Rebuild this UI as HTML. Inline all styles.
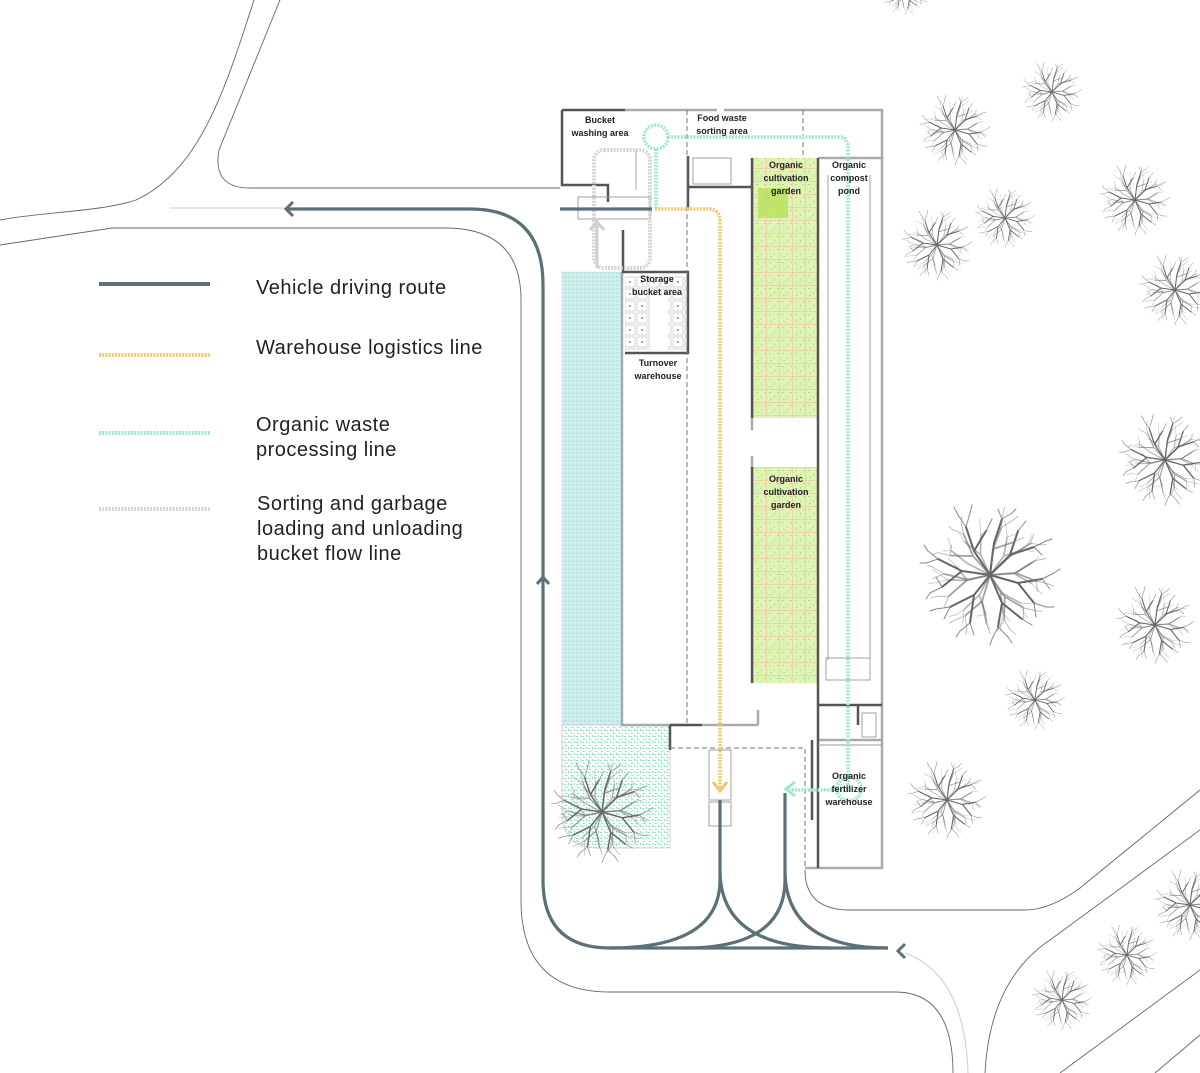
<!DOCTYPE html>
<html><head><meta charset="utf-8"><style>
html,body{margin:0;padding:0;background:#fff}
svg{display:block}
text{font-family:"Liberation Sans",sans-serif;fill:#222}
.lab{font-size:9px;font-weight:bold;text-anchor:middle}
.leg{font-size:20px;fill:#222;letter-spacing:0.5px}
</style></head><body>
<svg width="1200" height="1073" viewBox="0 0 1200 1073" xmlns="http://www.w3.org/2000/svg">
<defs>
<pattern id="teal" width="4" height="4" patternUnits="userSpaceOnUse"><rect width="4" height="4" fill="#cdeeea"/><rect width="2" height="2" fill="#b8e4df"/></pattern>
<pattern id="dots" width="6" height="6" patternUnits="userSpaceOnUse"><rect width="6" height="6" fill="#f3fbf8"/><path d="M1 1h2v1H1zM4 3h1v2H4zM0 4h2v1H0z" fill="#9fdcc7"/></pattern>
<pattern id="grn" width="13" height="13" patternUnits="userSpaceOnUse"><rect width="13" height="13" fill="#dff3b4"/><path d="M2 2h2v1H2zM7 6h1v2H7zM10 2h2v1h-2zM3 9h2v1H3z" fill="#b5de7e"/><path d="M0 12.5H13M12.5 0V13" stroke="#eec9a6" stroke-width="0.7"/></pattern>
<pattern id="cells" width="12" height="12" patternUnits="userSpaceOnUse"><rect x="1" y="1" width="10" height="10" fill="#fff" stroke="#bbb" stroke-width="0.6"/><circle cx="6" cy="6" r="1" fill="#888"/></pattern>
<g id="br">
<g stroke-width="1">
<path d="M0 0L-8 -12L-12 -24M-8 -12L-2 -22M0 0L10 -10L22 -14M10 -10L14 -22M0 0L14 4L26 2M14 4L22 14M0 0L6 14L4 26M6 14L16 22M0 0L-8 10L-20 16M-8 10L-10 24M0 0L-14 -2L-26 -8M-14 -2L-24 6M0 0L2 -16L6 -28"/>
</g>
<g stroke-width="0.5" stroke="#888">
<path d="M-12 -24l-4 -6M-12 -24l2 -7M-2 -22l3 -6M22 -14l6 -3M22 -14l4 4M14 -22l4 -5M26 2l6 -3M26 2l4 5M22 14l6 2M22 14l1 7M4 26l-3 6M4 26l5 5M16 22l5 3M-20 16l-7 1M-20 16l-3 6M-10 24l-5 4M-10 24l2 6M-26 -8l-5 -4M-26 -8l-6 2M-24 6l-6 3M-24 6l-3 -5M6 -28l-2 -5M6 -28l5 -3"/>
<path d="M-16 -30l-2 -4M-10 -31l1 -4M28 -17l3 -1M32 -1l3 -2M28 16l4 0M1 32l-1 3M9 31l2 3M-27 17l-3 1M-15 28l-2 3M-31 -12l-2 -3M-32 -6l-3 0M-30 9l-2 3M11 -31l2 -2"/>
</g>
</g>
<g id="tree" stroke="#666" fill="none" stroke-linecap="round">
<use href="#br"/>
<use href="#br" transform="rotate(40) scale(0.9)" opacity="0.6"/>
<use href="#br" transform="rotate(-70) scale(0.8)" opacity="0.5"/>
</g>
</defs>

<!-- roads -->
<g fill="none" stroke="#666" stroke-width="0.9">
<path d="M254 0 C225 90 200 170 136 200 C100 212 40 212 0 220"/>
<path d="M280 0 L219 150 Q212 188 250 188 H560"/>
<path d="M0 245 L112 228 H445 Q521 228 521 300 V900 Q521 992 610 992 H895 Q953 992 953 1073"/>
<path d="M805 870 Q805 910 850 910 H1025 Q1050 910 1080 888 L1200 790"/>
<path d="M1200 830 L1050 940 Q990 980 985 1073"/>
<path d="M1200 970 L1060 1073 M1200 1035 L1155 1073"/>
</g>
<path d="M170 208 H285" stroke="#ccc" stroke-width="1"/>
<path d="M905 953 Q965 975 968 1073" stroke="#ccc" stroke-width="1" fill="none"/>

<!-- site fills -->
<rect x="562" y="272" width="60" height="453" fill="url(#teal)" stroke="#bbb" stroke-width="0.6" stroke-dasharray="2 2"/>
<path d="M562 725 H670 V848 H598 Q562 848 562 812 Z" fill="url(#dots)" stroke="#ccc" stroke-width="0.8"/>
<rect x="752" y="158" width="65" height="260" fill="url(#grn)"/>
<rect x="758" y="188" width="30" height="30" fill="#b8e05a" opacity="0.8"/>
<rect x="752" y="467" width="65" height="216" fill="url(#grn)"/>
<rect x="625" y="276" width="62" height="74" fill="url(#cells)"/>
<rect x="650" y="296" width="18" height="54" fill="#fff"/>

<!-- building outlines -->
<g fill="none" stroke="#aaa" stroke-width="2.5">
<path d="M625 110 H717 M724 110 H882 V158"/>
<path d="M818 158 H882 V868 H805"/>
<path d="M622 272 V725 H685"/>
<path d="M752 418 V430 M752 456 V467"/>
<path d="M818 740 H882"/>
<path d="M702 725 H758 M758 725 V710"/>
</g>
<g fill="none" stroke="#555" stroke-width="2.5">
<path d="M562 110 H625 M562 110 V185 H608 V202"/>
<path d="M688 210 V156 V187 H752 M688 156 V187"/>
<path d="M752 158 V418 M752 467 V683"/>
<path d="M818 158 V868"/>
<path d="M622 272 H688 V353 H625"/>
<path d="M623 232 V272 M623 230 V270"/>
<path d="M670 725 V750 M670 725 H702"/>
<path d="M818 705 H882 M858 705 V725"/>
<path d="M812 740 V820"/>
</g>
<g fill="none" stroke="#999" stroke-width="0.9">
<path d="M818 745 H882"/>
<rect x="693" y="158" width="38" height="26"/>
<rect x="826" y="658" width="44" height="22"/>
<path d="M828 175 V660 M870 175 V660"/>
<rect x="862" y="713" width="14" height="24"/>
<rect x="709" y="750" width="22" height="50"/>
<rect x="709" y="802" width="22" height="24"/>
<rect x="578" y="197" width="72" height="22"/>
<path d="M636 150 V190"/>
</g>
<g fill="none" stroke="#777" stroke-width="1" stroke-dasharray="5 3">
<path d="M687 110 V725 M803 110 V158"/>
<path d="M670 748 H805 V868"/>
</g>

<!-- grey bucket flow -->
<rect x="594" y="150" width="56" height="118" rx="10" fill="none" stroke="#d5d5d5" stroke-width="4" stroke-dasharray="2 1.2"/>
<path d="M597 268 V220 M590 230 L597 222 L604 230" stroke="#d0d0d0" stroke-width="3" fill="none"/>

<!-- organic line -->
<g fill="none" stroke="#9de9c6" stroke-width="3.5" stroke-dasharray="2 1.2">
<circle cx="656" cy="137" r="12"/>
<path d="M668 137 H840 Q848 137 848 150 V790 H790"/>
<path d="M656 149 V208"/>
<circle cx="849" cy="789" r="12"/>
</g>
<path d="M795 782 L786 789 L795 796" fill="none" stroke="#9de9c6" stroke-width="3"/>

<!-- warehouse logistics line -->
<path d="M655 209 H708 Q720 209 720 222 V790" fill="none" stroke="#f2c76f" stroke-width="3.5" stroke-dasharray="2 1.2"/>
<path d="M713 782 L720 791 L727 782" fill="none" stroke="#f2c76f" stroke-width="3"/>

<!-- vehicle route -->
<g fill="none" stroke="#5c707a" stroke-width="3.2">
<path d="M287 209 H470 Q543 209 543 285 V880 Q543 948 610 948 H888"/>
<path d="M720 800 V880 Q720 948 610 948"/>
<path d="M720 870 Q720 948 830 948"/>
<path d="M785 793 V880 Q785 948 685 948"/>
<path d="M785 870 Q785 948 888 948"/>
<path d="M652 209 H560"/>
</g>
<path d="M293 202 L286 209 L293 216" fill="none" stroke="#5c707a" stroke-width="3"/>
<path d="M537 584 L543 577 L549 584" fill="none" stroke="#5c707a" stroke-width="3"/>
<path d="M905 944 L898 951 L905 958" fill="none" stroke="#5c707a" stroke-width="3"/>

<!-- labels -->
<text class="lab" x="600" y="123">Bucket</text>
<text class="lab" x="600" y="136">washing area</text>
<text class="lab" x="722" y="121">Food waste</text>
<text class="lab" x="722" y="134">sorting area</text>
<text class="lab" x="786" y="168">Organic</text>
<text class="lab" x="786" y="181">cultivation</text>
<text class="lab" x="786" y="194">garden</text>
<text class="lab" x="849" y="168">Organic</text>
<text class="lab" x="849" y="181">compost</text>
<text class="lab" x="849" y="194">pond</text>
<text class="lab" x="657" y="282">Storage</text>
<text class="lab" x="657" y="295">bucket area</text>
<text class="lab" x="658" y="366">Turnover</text>
<text class="lab" x="658" y="379">warehouse</text>
<text class="lab" x="786" y="482">Organic</text>
<text class="lab" x="786" y="495">cultivation</text>
<text class="lab" x="786" y="508">garden</text>
<text class="lab" x="849" y="779">Organic</text>
<text class="lab" x="849" y="792">fertilizer</text>
<text class="lab" x="849" y="805">warehouse</text>

<!-- legend -->
<line x1="99" y1="284" x2="210" y2="284" stroke="#5c707a" stroke-width="4"/>
<line x1="99" y1="355" x2="210" y2="355" stroke="#f2c76f" stroke-width="4" stroke-dasharray="2 1.2"/>
<line x1="99" y1="433" x2="210" y2="433" stroke="#9de9c6" stroke-width="4" stroke-dasharray="2 1.2"/>
<line x1="99" y1="509" x2="210" y2="509" stroke="#d5d5d5" stroke-width="4" stroke-dasharray="2 1.2"/>
<text class="leg" x="256" y="294">Vehicle driving route</text>
<text class="leg" x="256" y="354">Warehouse logistics line</text>
<text class="leg" x="256" y="431">Organic waste</text>
<text class="leg" x="256" y="456">processing line</text>
<text class="leg" x="257" y="510">Sorting and garbage</text>
<text class="leg" x="257" y="535">loading and unloading</text>
<text class="leg" x="257" y="560">bucket flow line</text>

<!-- trees -->
<use href="#tree" transform="translate(955,130) scale(1.0)"/>
<use href="#tree" transform="translate(1052,92) scale(0.85)"/>
<use href="#tree" transform="translate(1135,200) scale(1.0)"/>
<use href="#tree" transform="translate(1005,218) scale(0.85)"/>
<use href="#tree" transform="translate(937,245) scale(1.0)"/>
<use href="#tree" transform="translate(1175,290) scale(1.0)"/>
<use href="#tree" transform="translate(1165,460) scale(1.3)"/>
<use href="#tree" transform="translate(990,575) scale(2.0)"/>
<use href="#tree" transform="translate(1155,625) scale(1.1)"/>
<use href="#tree" transform="translate(1035,700) scale(0.85)"/>
<use href="#tree" transform="translate(947,800) scale(1.1)"/>
<use href="#tree" transform="translate(1190,905) scale(1.0)"/>
<use href="#tree" transform="translate(1127,955) scale(0.85)"/>
<use href="#tree" transform="translate(1062,1000) scale(0.85)"/>
<use href="#tree" transform="translate(602,812) scale(1.45)"/>
<use href="#tree" transform="translate(905,-10) scale(0.7)"/>
</svg>
</body></html>
